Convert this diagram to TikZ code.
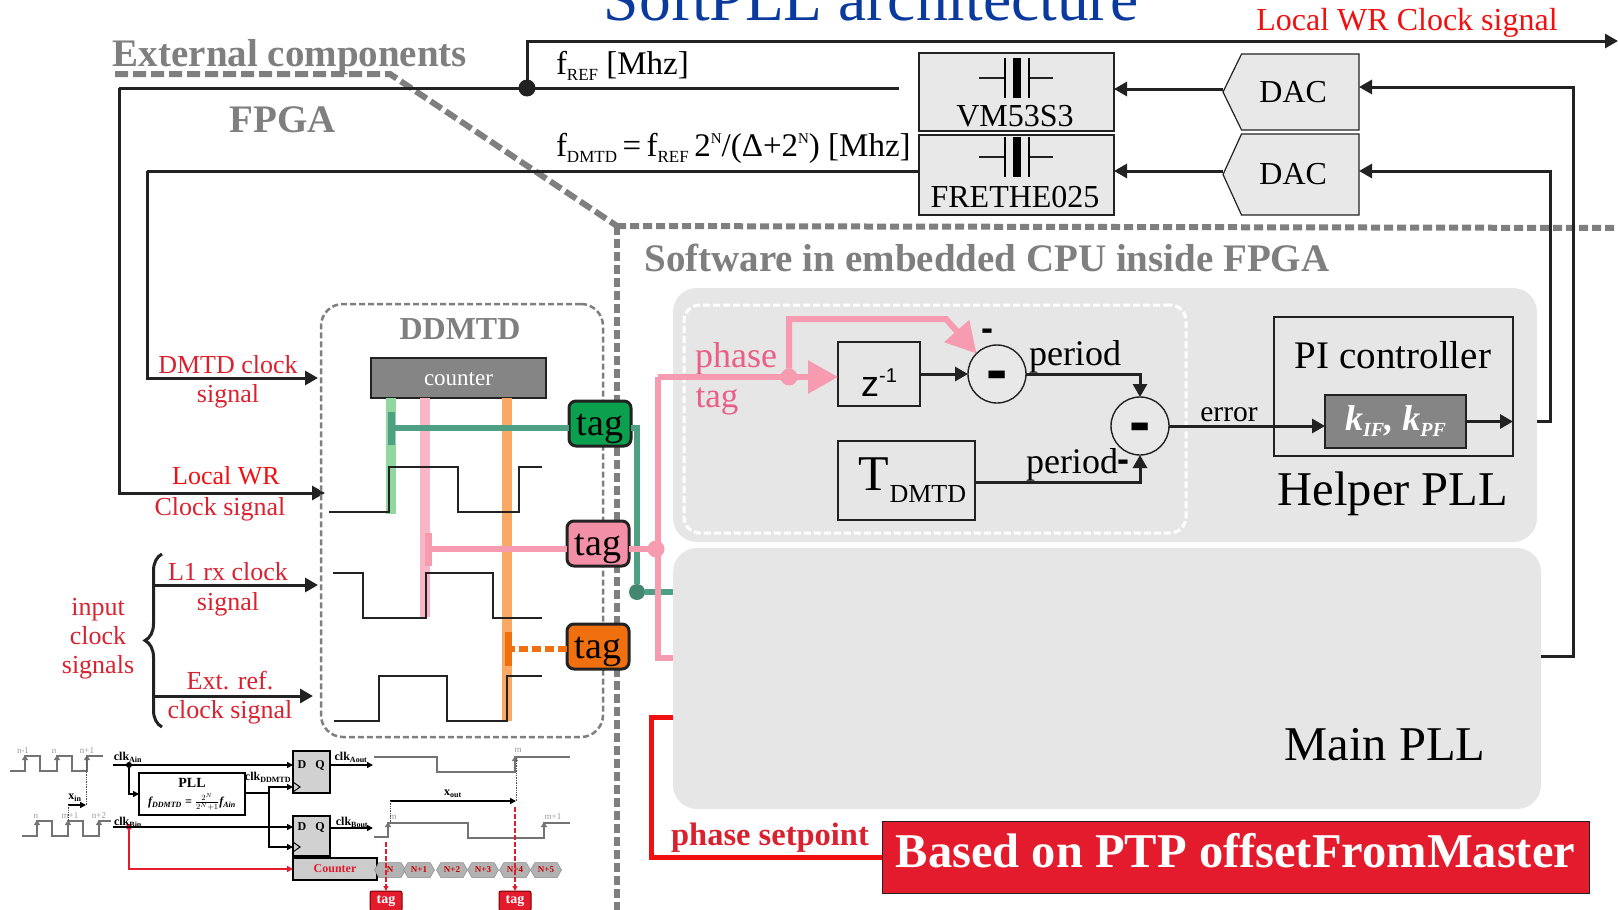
\documentclass[tikz,border=0pt]{standalone}
\usepackage{fontspec}
\setmainfont{Liberation Serif}
\setsansfont{Liberation Sans}
\usetikzlibrary{shapes,arrows.meta,positioning,decorations.pathreplacing,calc}
\definecolor{linecol}{HTML}{222222}
\definecolor{dashgray}{HTML}{7F7F7F}
\definecolor{regiongray}{HTML}{E6E6E6}
\definecolor{boxgray}{HTML}{E8E8E8}
\definecolor{labelred}{HTML}{D9222F}
\definecolor{purered}{HTML}{F01010}
\definecolor{boxred}{HTML}{E31B2C}
\definecolor{tagpink}{HTML}{F48FA8}
\definecolor{pinkline}{HTML}{F79BB0}
\definecolor{textpink}{HTML}{EA5F85}
\definecolor{tagorange}{HTML}{F07010}
\definecolor{taggreen}{HTML}{0BA04E}
\definecolor{greenline}{HTML}{4F9F84}
\definecolor{lightgreen}{HTML}{93D7A0}
\definecolor{lightpink}{HTML}{F9B6C6}
\definecolor{lightorange}{HTML}{F9A964}
\definecolor{titleblue}{HTML}{0B3A9E}
\newcommand{\fs}[1]{\fontsize{#1}{#1}\selectfont}
\newcommand{\fsub}[1]{\raisebox{-6pt}{\fs{17}#1}}
\newcommand{\fsup}[1]{\raisebox{13pt}{\fs{15}#1}}

\begin{document}
\begin{tikzpicture}[
    x=1pt, y=-1pt,
    every node/.style={outer sep=0pt, inner sep=0pt},
    wire/.style={draw=linecol, line width=3pt},
    arrow/.style={wire, -{Triangle[length=13pt,width=14pt]}},
    block/.style={rectangle, draw=linecol, line width=1.4pt, fill=boxgray},
    darkblock/.style={rectangle, draw=linecol, line width=1.4pt, fill=black!48, text=white},
    dac/.style={signal, signal to=west, signal pointer angle=128, draw=linecol, line width=1.2pt, fill=boxgray,
        minimum width=136pt, minimum height=76pt, font=\fs{32}},
    region/.style={rectangle, rounded corners=24pt, fill=regiongray},
    outerdash/.style={draw=dashgray, line width=6pt, dash pattern=on 9pt off 4pt},
    tagbox/.style={rectangle, rounded corners=7pt, draw=linecol, line width=3pt, minimum width=62pt, minimum height=45pt,
        text height=32pt, text depth=8pt, font=\fs{38}},
    minus/.style={circle, draw=linecol, line width=1.4pt, minimum size=58pt, fill=boxgray, text height=35pt, font=\sffamily\bfseries\fs{64}},
    smallminus/.style={font=\sffamily\bfseries\fs{36}},
    dot/.style={circle, minimum size=#1, fill=linecol},
    dot/.default=17pt,
    graytitle/.style={text=dashgray, font=\fs{39}\bfseries},
    redlabel/.style={text=labelred, font=\fs{26}},
    thinwave/.style={draw=linecol, line width=1.6pt},
    graywave/.style={draw=black!55, line width=2pt},
    smalltext/.style={text=black!40, font=\fs{9}},
    cliptext/.style={font=\fs{12}\bfseries},
    miniwire/.style={draw=black, line width=1.6pt},
    miniarrow/.style={miniwire, -{Triangle[length=6pt,width=6pt]}},
    redarrow/.style={draw=boxred, line width=2pt, -{Triangle[length=6pt,width=6pt]}},
    reddash/.style={draw=boxred, line width=2pt, dash pattern=on 5pt off 2pt, -{Triangle[length=5pt,width=5pt]}},
    dotted wire/.style={draw=black!70, line width=.7pt, densely dotted},
    cell/.style={signal, signal to=west and east, signal pointer angle=120, fill=black!30, draw=black!45, line width=.5pt,
        minimum width=31pt, minimum height=15pt, text=red!80!black, font=\fs{9}\bfseries},
    smalltag/.style={rectangle, rounded corners=2pt, fill=boxred, draw=red!45!black, line width=1pt,
        minimum width=32pt, minimum height=20pt, text=white, font=\fs{14}\bfseries}
]
    \path[use as bounding box, clip] (0,0) rectangle (1618,910);

    % title and group labels
    \node[anchor=base, text=titleblue, font=\fs{63.5}] (title) at (871,20) {SoftPLL architecture};
    \node[text=purered, font=\fs{32}] (wrlabel) at (1407,23) {Local WR Clock signal};
    \node[graytitle] (external) at (290,57) {External components};
    \node[graytitle] (fpga) at (283,120) {FPGA};
    \node[graytitle] (software) at (987,258) {Software in embedded CPU inside FPGA};

    % outer boundary
    \draw[outerdash, dash pattern=on 13pt off 5pt] (115,74) -- (390,74) -- (617,226);
    \draw[outerdash] (617,226) -- (1618,228);
    \draw[outerdash] (617,226) -- (617,910);

    % software regions
    \node[region, minimum width=864pt, minimum height=254pt, anchor=north west] (helper) at (673,288) {};
    \node[region, minimum width=868pt, minimum height=261pt, anchor=north west] (mainpll) at (673,548) {};
    \node[rectangle, rounded corners=16pt, draw=white, line width=3pt, dash pattern=on 7pt off 3pt, minimum width=502pt, minimum height=228pt, anchor=north west] (loop) at (684,305) {};
    \node[font=\fs{48.5}] (mainlabel) at (1385,745) {Main PLL};
    \node[font=\fs{48.5}] (helperlabel) at (1393,494) {Helper PLL};

    % oscillators and converters
    \node[block, minimum width=195pt, minimum height=78pt, anchor=north west] (vmbox) at (919,53) {};
    \node[block, minimum width=195pt, minimum height=80pt, below=4pt of vmbox] (frebox) {};
    \node[dac, right=109pt of vmbox] (dacone) {\hspace*{-14pt}DAC};
    \node[dac, signal pointer angle=131, minimum height=81pt, below=4pt of dacone] (dactwo) {\hspace*{-14pt}DAC};
    \node[font=\fs{32}] (vmtext) at (1015,116) {VM53S3};
    \node[font=\fs{32}] (fretext) at (1015,197) {FRETHE025};
    \foreach \ycap in {78,157} {
        \draw[linecol, line width=1.6pt] (979,\ycap) -- (1005,\ycap) (1029,\ycap) -- (1053,\ycap);
        \draw[black, line width=2.5pt] (1005,\ycap-20) -- (1005,\ycap+20) (1029,\ycap-20) -- (1029,\ycap+20);
        \draw[black, line width=8pt] (1017,\ycap-20) -- (1017,\ycap+20);
    }
    \node[font=\fs{33}, anchor=west] (freflabel) at (556,66) {f\fsub{REF} [Mhz]};
    \node[font=\fs{33}, anchor=west] (fdmtdlabel) at (556,148) {f\fsub{DMTD}\,=\,f\fsub{REF}\,2\fsup{N}/(Δ+2\fsup{N}) [Mhz]};

    % clock lines
    \node[dot] (refdot) at (527,88) {};
    \coordinate (vmend) at (899,88);
    \coordinate (refleft) at (119,88);
    \coordinate (wrin) at (325,493);
    \coordinate (dmtdleft) at (147,171);
    \coordinate (dmtdin) at (318,378);
    \coordinate (wrout) at (1618,41);
    \coordinate (arrowone) at (1170,89);
    \coordinate (arrowtwo) at (1170,171);
    \draw[wire] (refleft) -- (vmend);
    \draw[arrow] (refleft) |- (wrin);
    \draw[arrow] (refdot) |- (wrout);
    \draw[wire] (frebox.west |- dmtdleft) -- (dmtdleft);
    \draw[arrow] (dmtdleft) |- (dmtdin);
    \draw[arrow] (dacone.west |- arrowone) -- (vmbox.east |- arrowone);
    \draw[arrow] (dactwo.west |- arrowtwo) -- (frebox.east |- arrowtwo);

    % DDMTD block
    \node[rectangle, rounded corners=22pt, draw=dashgray, line width=2.5pt, dash pattern=on 6pt off 3pt,
        minimum width=282pt, minimum height=433pt, anchor=north west] (ddmtd) at (321,304) {};
    \node[graytitle, font=\fs{32}\bfseries] (ddmtdlabel) at (460,329) {DDMTD};
    \node[darkblock, minimum width=175pt, minimum height=40pt, anchor=north west, text height=16pt, font=\fs{23}] (counter) at (371,358) {counter};
    \coordinate (greenend) at (391,514);
    \coordinate (pinkend) at (425,617);
    \coordinate (orangeend) at (507,721);
    \draw[lightgreen, line width=10pt] (counter.south -| greenend) -- (greenend);
    \draw[lightpink, line width=10pt] (counter.south -| pinkend) -- (pinkend);
    \draw[lightorange, line width=10pt] (counter.south -| orangeend) -- (orangeend);
    \draw[thinwave] (329,512) -- (389,512) -- (389,467) -- (458,467) -- (458,512) -- (519,512) -- (519,467) -- (542,467);
    \draw[thinwave] (333,573) -- (363,573) -- (363,618) -- (426,618) -- (426,573) -- (493,573) -- (493,618) -- (542,618);
    \draw[thinwave] (334,721) -- (379,721) -- (379,676) -- (447,676) -- (447,721) -- (507,721) -- (507,676) -- (542,676);

    % tags
    \node[tagbox, fill=taggreen, anchor=north west] (taggreen) at (569,401) {tag};
    \node[tagbox, fill=tagpink, anchor=north west] (tagpink) at (567,521) {tag};
    \node[tagbox, fill=tagorange, anchor=north west] (tagorange) at (567,624) {tag};
    \coordinate (greentee) at (391,428);
    \coordinate (pinktee) at (428,549);
    \coordinate (orangetee) at (508,649);
    \draw[greenline, line width=6pt] (taggreen.west |- greentee) -- (greentee);
    \draw[greenline, line width=7pt] ($(greentee)+(0,-16)$) -- ($(greentee)+(0,17)$);
    \draw[pinkline, line width=6pt] (tagpink.west |- pinktee) -- (pinktee);
    \draw[pinkline, line width=7pt] ($(pinktee)+(0,-16)$) -- ($(pinktee)+(0,17)$);
    \draw[tagorange, line width=6pt, dash pattern=on 9pt off 4pt] (tagorange.west |- orangetee) -- (orangetee);
    \draw[tagorange, line width=7pt] ($(orangetee)+(0,-17)$) -- ($(orangetee)+(0,17)$);

    % phase tag routing
    \node[dot=17pt, fill=pinkline] (pinkjoin) at (656,549) {};
    \node[dot=16pt, fill=greenline!85!black] (greenjoin) at (637,592) {};
    \node[dot=17pt, fill=pinkline] (phasedot) at (789,377) {};
    \coordinate (pinktop) at (658,377);
    \coordinate (pinkbottom) at (658,658);
    \coordinate (phaseup) at (789,319);
    \coordinate (phasebend) at (946,319);
    \draw[greenline, line width=6pt] (taggreen.east |- greentee) -- (greenjoin |- greentee) -- (greenjoin) -- (greenjoin -| mainpll.west);
    \draw[pinkline, line width=6pt] (tagpink.east |- pinkjoin) -- (pinkjoin);
    \draw[pinkline, line width=6pt] (pinkbottom -| mainpll.west) -- (pinkbottom) -- (pinktop);
    \node[text=textpink, font=\fs{36}] (phaselabel) at (736,359) {phase};
    \node[text=textpink, font=\fs{35}] (taglabel) at (717,401) {tag};

    % helper loop
    \node[block, fill=none, minimum width=82pt, minimum height=64pt, anchor=north west, text height=45pt, font=\sffamily\fs{36}] (zbox) at (838,342) {z\raisebox{14pt}{\fs{20}-1}};
    \node[block, fill=none, minimum width=137pt, minimum height=79pt, below=35pt of zbox.south west, anchor=north west, font=\fs{50}] (tbox) {\hspace*{12pt}T\raisebox{-12pt}{\fs{26}DMTD}};
    \node[minus, right=48pt of zbox] (minusone) {-};
    \node[minus] (minustwo) at (1140,426) {-};
    \node[rectangle, draw=linecol, line width=1.4pt, minimum width=239pt, minimum height=139pt, anchor=north west] (pibox) at (1274,317) {};
    \node[font=\fs{39}] (pilabel) at (1393,355) {PI controller};
    \node[darkblock, minimum width=141pt, minimum height=53pt, anchor=north west, font=\fs{36}\bfseries\itshape] (gains) at (1325,395) {k\raisebox{-6pt}{\fs{20}IF}, k\raisebox{-6pt}{\fs{20}PF}};
    \draw[pinkline, line width=6pt, -{Triangle[length=30pt,width=32pt]}] (pinktop) -- (zbox.west |- pinktop);
    \draw[pinkline, line width=6pt, -{Triangle[length=30pt,width=32pt]}] (phasedot) -- (phaseup) -- (phasebend) -- (minusone.north west);
    \node[smallminus] (minusupper) at (987,335) {-};
    \node[smallminus] (minuslower) at (1123,466) {-};
    \draw[arrow] (zbox.east) -- (minusone.west);
    \coordinate (periodbend) at (minustwo.north |- minusone.east);
    \coordinate (tbend) at (minustwo.south |- 0,482);
    \draw[arrow] (minusone.east) -- (periodbend) -- (minustwo.north);
    \draw[arrow] (tbox.east |- tbend) -- (tbend) -- (minustwo.south);
    \node[font=\fs{36}] (periodone) at (1075,357) {period};
    \node[font=\fs{36}] (periodtwo) at (1072,465) {period};
    \node[font=\fs{29.5}] (errorlabel) at (1229,415) {error};
    \draw[arrow] (minustwo.east) -- (gains.west |- minustwo.east);
    \draw[arrow] (gains.east) -- (pibox.east |- gains.east);

    % feedback to converters
    \coordinate (backtwo) at (1550,171);
    \coordinate (backone) at (1573,87);
    \draw[arrow] (helper.east |- gains.east) -- (backtwo |- gains.east) -- (backtwo) -- (dactwo.east |- backtwo);
    \coordinate (mainout) at (mainpll.east |- 0,656);
    \draw[arrow] (mainout) -- (backone |- mainout) -- (backone) -- (dacone.east |- backone);

    % input clocks
    \node[redlabel] (dmtdone) at (228,365) {DMTD clock};
    \node[redlabel] (dmtdtwo) at (228,396) {signal};
    \node[text=purered, font=\fs{26}] (wrone) at (226,476) {Local WR};
    \node[redlabel] (wrtwo) at (220,509) {Clock signal};
    \node[redlabel] (lone) at (228,572) {L1 rx clock};
    \node[redlabel] (ltwo) at (228,604) {signal};
    \node[redlabel] (extone) at (230,681) {Ext. ref.};
    \node[redlabel] (exttwo) at (230,712) {clock signal};
    \node[redlabel] (inone) at (98,610) {input};
    \node[redlabel] (intwo) at (98,636) {clock};
    \node[redlabel] (inthree) at (98,667) {signals};
    \coordinate (lstart) at (155,585);
    \coordinate (lin) at (318,585);
    \coordinate (extstart) at (155,696);
    \coordinate (extin) at (313,696);
    \draw[arrow] (lstart) -- (lin);
    \draw[arrow] (extstart) -- (extin);
    \draw[linecol, line width=3pt, decorate, decoration={brace, amplitude=17pt}] (162,727) -- (162,554);

    % phase setpoint
    \node[rectangle, fill=boxred, draw=linecol, line width=.8pt, minimum width=707pt, minimum height=72pt, anchor=north west, text=white, text depth=13pt, font=\fs{48.5}\bfseries] (ptpbox) at (882,821) {Based on PTP offsetFromMaster};
    \node[text=labelred, font=\fs{32.5}\bfseries] (setpoint) at (770,838) {phase setpoint};
    \coordinate (redcorner) at (651,857);
    \coordinate (redin) at (mainpll.west |- 0,717);
    \draw[purered, line width=5pt] (redin) -- (redin -| redcorner) -- (redcorner) -- (ptpbox.west |- redcorner);

    % method sketch, waveforms
    \draw[graywave] (10,771) -- (25,771) -- (25,756) -- (40,756) -- (40,771) -- (57,771) -- (57,756) -- (72,756) -- (72,771) -- (87,771) -- (87,756) -- (103,756);
    \draw[graywave] (22,836) -- (37,836) -- (37,821) -- (52,821) -- (52,836) -- (68,836) -- (68,821) -- (83,821) -- (83,836) -- (99,836) -- (99,821) -- (111,821);
    \draw[graywave] (374,757) -- (437,757) -- (437,772) -- (515,772) -- (515,757) -- (570,757);
    \draw[graywave] (374,837) -- (388,837) -- (388,823) -- (468,823) -- (468,838) -- (544,838) -- (544,823) -- (570,823);
    \foreach \xedge/\ylow/\yhigh in {25/771/756, 57/771/756, 87/771/756, 37/836/821, 68/836/821, 99/836/821, 515/772/757, 388/837/823, 544/838/823} {
        \draw[draw=black!55, line width=2pt, -{Triangle[length=5pt,width=6pt]}] (\xedge,\ylow) -- (\xedge,\yhigh-1);
    }
    \foreach \xpos/\ypos/\txt in {23/751/n-1, 54/751/n, 87/751/n+1, 36/816/n, 70/816/m+1, 99/816/n+2, 518/750/m, 393/817/m, 553/817/m+1} {
        \node[smalltext] at (\xpos,\ypos) {\txt};
    }

    % method sketch, blocks
    \node[draw=black, line width=1.6pt, fill=white, minimum width=106pt, minimum height=42pt, anchor=north west] (pllbox) at (139,773) {};
    \node[font=\fs{14}\bfseries] (plllabel) at (192,783) {PLL};
    \node[font=\fs{12}\bfseries\itshape] (pllformula) at (192,802) {f\textsubscript{DDMTD} = $\frac{2^N}{2^N+1}$f\textsubscript{Ain}};
    \node[draw=black, line width=1.2pt, fill=black!18, minimum width=37pt, minimum height=42pt, anchor=north west] (ffone) at (293,751) {};
    \node[draw=black, line width=1.2pt, fill=black!18, minimum width=37pt, minimum height=40pt, anchor=north west] (fftwo) at (293,816) {};
    \foreach \ffname/\yd/\yck in {one/765/787, two/827/847} {
        \node[font=\fs{12}\bfseries] at (302,\yd) {D};
        \node[font=\fs{12}\bfseries] at (320,\yd) {Q};
        \draw[black, line width=1pt] (293,\yck-5) -- (300,\yck) -- (293,\yck+5);
    }
    \node[draw=black, line width=1.4pt, fill=black!20, minimum width=84pt, minimum height=22pt, anchor=north west, text=boxred, font=\fs{12}\bfseries] (minicounter) at (293,858) {Counter};
    \foreach \cellname/\xpos/\txt in {a/390/N, b/419/N+1, c/452/N+2, d/483/N+3, e/515/N+4, f/546/N+5} {
        \node[cell] (cell\cellname) at (\xpos,870) {\txt};
    }
    \node[smalltag] (tagleft) at (386,901) {tag};
    \node[smalltag] (tagright) at (515,901) {tag};

    % method sketch, wiring
    \node[dot=6pt, fill=black] (adot) at (129,765) {};
    \node[dot=6pt, fill=boxred] (bdot) at (129,827) {};
    \coordinate (astart) at (113,765);
    \coordinate (bstart) at (113,827);
    \coordinate (aout) at (373,765);
    \coordinate (bout) at (373,828);
    \coordinate (ckbus) at (269,793);
    \coordinate (ckone) at (293,787);
    \coordinate (cktwo) at (293,847);
    \coordinate (xinleft) at (68,805);
    \coordinate (xinright) at (86,805);
    \coordinate (xoutleft) at (390,801);
    \coordinate (xoutright) at (516,801);
    \draw[miniarrow] (astart) -- (ffone.west |- astart);
    \draw[miniarrow] (bstart) -- (fftwo.west |- bstart);
    \draw[miniarrow] (adot) |- (pllbox.west |- 0,794);
    \draw[miniwire] (pllbox.east |- ckbus) -- (ckbus);
    \draw[miniarrow] (ckbus) |- (ckone);
    \draw[miniarrow] (ckbus) |- (cktwo);
    \draw[miniarrow] (ffone.east |- aout) -- (aout);
    \draw[miniarrow] (fftwo.east |- bout) -- (bout);
    \draw[redarrow] (bdot) |- (minicounter.west);
    \draw[miniarrow] (xinleft) -- (xinright);
    \draw[miniarrow] (xoutleft) -- (xoutright);
    \draw[dotted wire] (xinleft) -- (xinleft |- 0,822);
    \draw[dotted wire] (xinright) -- (xinright |- 0,757);
    \draw[dotted wire] (xoutleft) -- (xoutleft |- 0,823);
    \draw[dotted wire] (xoutright) -- (xoutright |- 0,757);
    \draw[reddash] (tagleft.north |- 0,842) -- (tagleft.north);
    \draw[reddash] (tagright.north |- 0,807) -- (tagright.north);
    \node[cliptext] (clkain) at (128,757) {clk\textsubscript{Ain}};
    \node[cliptext] (clkbin) at (128,822) {clk\textsubscript{Bin}};
    \node[cliptext] (clkddmtd) at (268,777) {clk\textsubscript{DDMTD}};
    \node[cliptext] (clkaout) at (351,757) {clk\textsubscript{Aout}};
    \node[cliptext] (clkbout) at (352,822) {clk\textsubscript{Bout}};
    \node[cliptext] (xinlabel) at (75,798) {x\textsubscript{in}};
    \node[cliptext] (xoutlabel) at (453,794) {x\textsubscript{out}};
\end{tikzpicture}
\end{document}
